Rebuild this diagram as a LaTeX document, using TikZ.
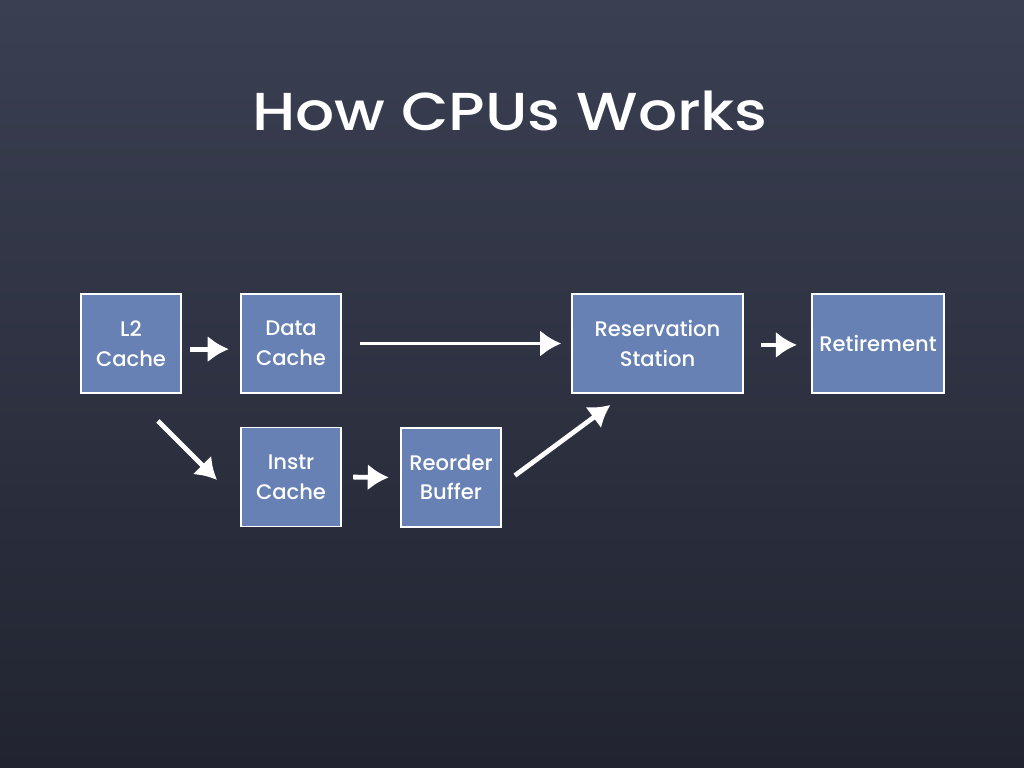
\documentclass[tikz,border=0pt]{standalone}
\usepackage{fontspec}
\setmainfont{Poppins}
\newfontfamily\chalkfont{Poppins Medium}
\usetikzlibrary{arrows.meta,calc,positioning}
\definecolor{boardtop}{RGB}{58,63,82}
\definecolor{boardmid}{RGB}{70,75,95}
\definecolor{boardbot}{RGB}{33,36,48}
\definecolor{unitblue}{RGB}{103,129,180}

\begin{document}
\begin{tikzpicture}[x=0.025cm,y=-0.025cm,
    unit/.style = {draw=white, line width=1.3pt, fill=unitblue,
      text=white, font=\chalkfont\fontsize{15}{21}\selectfont, align=center,
      minimum width=2.5cm, minimum height=2.475cm, inner sep=0pt},
    flow/.style = {draw=white, line width=3.4pt,
      -{Latex[length=15pt,width=19pt]}},
  ]
  % board
  \shade[top color=boardtop, middle color=boardmid, bottom color=boardbot] (0,0) rectangle (1024,768);
  \useasboundingbox (0,0) rectangle (1024,768);

  \node[text=white, font=\chalkfont\fontsize{38}{42}\selectfont, xscale=1.15, anchor=base] (title) at (510,131) {How CPUs Works};

  \node[unit] (l2) at (131,343.5) {L2\\Cache};
  \node[unit] (data) at (291,343.5) {Data\\Cache};
  \node[unit] (instr) at (291,477) {Instr\\Cache};
  \node[unit] (reorder) at (451,477.5) {Reorder\\Buffer};
  \node[unit, minimum width=4.275cm] (resv) at (657.5,343.5) {Reservation\\Station};
  \node[unit, minimum width=3.3cm] (retire) at (878,343.5) {Retirement};

  \draw[flow, shorten <=6pt, shorten >=8pt] ([yshift=-4pt]l2.east) -- ([yshift=-4pt]data.west);
  \draw[flow, line width=2.8pt, shorten <=13pt, shorten >=7pt] (data.east) -- (resv.west);
  \draw[flow] ($(l2.south)+(27,27)$) -- ($(instr.west)+(-23,3)$);
  \draw[flow, shorten <=8pt, shorten >=8pt] (instr.east) -- (reorder.west);
  \draw[flow] ($(reorder.east)+(13,-2)$) -- ($(resv.south)+(-47,11)$);
  \draw[flow, shorten <=12pt, shorten >=10pt] ([yshift=-1pt]resv.east) -- ([yshift=-1pt]retire.west);
\end{tikzpicture}
\end{document}
